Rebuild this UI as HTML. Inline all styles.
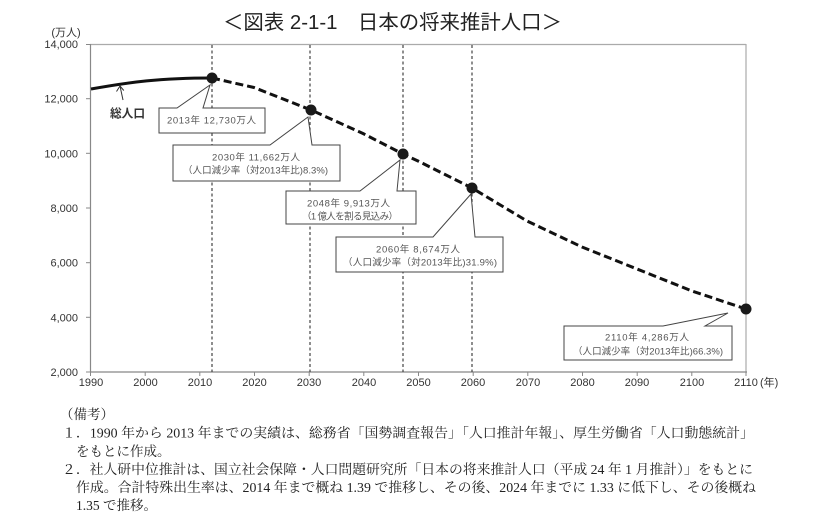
<!DOCTYPE html>
<html><head><meta charset="utf-8"><style>
html,body{margin:0;padding:0;background:#fff;}
svg{display:block;}
.s{font-family:"Liberation Sans","Noto Sans CJK JP",sans-serif;}
.m{font-family:"Liberation Serif","Noto Serif CJK SC",serif;}
</style></head><body>
<svg width="834" height="530" viewBox="0 0 834 530" xmlns="http://www.w3.org/2000/svg">
<rect width="834" height="530" fill="#fff"/>
<!-- title -->
<text class="s" x="223" y="29" font-size="20" fill="#222" textLength="339" lengthAdjust="spacingAndGlyphs">＜図表 2-1-1　日本の将来推計人口＞</text>
<!-- unit -->
<text class="s" x="66" y="36" font-size="11" fill="#333" text-anchor="middle">(万人)</text>
<!-- frame -->
<line x1="90" y1="44.5" x2="746" y2="44.5" stroke="#aaa" stroke-width="1.2"/>
<line x1="746" y1="44" x2="746" y2="372" stroke="#aaa" stroke-width="1.2"/>
<line x1="90.5" y1="44" x2="90.5" y2="372" stroke="#888" stroke-width="1.2"/>
<line x1="90" y1="372" x2="747" y2="372" stroke="#888" stroke-width="1.2"/>
<!-- y ticks & labels -->
<g stroke="#888" stroke-width="1">
<line x1="86" y1="44.5" x2="90" y2="44.5"/><line x1="86" y1="98.7" x2="90" y2="98.7"/><line x1="86" y1="153.3" x2="90" y2="153.3"/><line x1="86" y1="208" x2="90" y2="208"/><line x1="86" y1="262.7" x2="90" y2="262.7"/><line x1="86" y1="317.3" x2="90" y2="317.3"/><line x1="86" y1="372" x2="90" y2="372"/>
</g>
<g class="s" font-size="11" fill="#333" text-anchor="end">
<text x="78" y="48">14,000</text><text x="78" y="102.7">12,000</text><text x="78" y="157.3">10,000</text><text x="78" y="212">8,000</text><text x="78" y="266.7">6,000</text><text x="78" y="321.3">4,000</text><text x="78" y="376">2,000</text>
</g>
<!-- x ticks & labels -->
<g stroke="#888" stroke-width="1">
<line x1="90.5" y1="372" x2="90.5" y2="376"/><line x1="145.2" y1="372" x2="145.2" y2="376"/><line x1="199.8" y1="372" x2="199.8" y2="376"/><line x1="254.5" y1="372" x2="254.5" y2="376"/><line x1="309.2" y1="372" x2="309.2" y2="376"/><line x1="363.8" y1="372" x2="363.8" y2="376"/><line x1="418.5" y1="372" x2="418.5" y2="376"/><line x1="473.2" y1="372" x2="473.2" y2="376"/><line x1="527.8" y1="372" x2="527.8" y2="376"/><line x1="582.5" y1="372" x2="582.5" y2="376"/><line x1="637.2" y1="372" x2="637.2" y2="376"/><line x1="691.8" y1="372" x2="691.8" y2="376"/><line x1="746" y1="372" x2="746" y2="376"/>
</g>
<g class="s" font-size="11" fill="#333" text-anchor="middle">
<text x="91" y="386">1990</text><text x="145.5" y="386">2000</text><text x="200" y="386">2010</text><text x="254.5" y="386">2020</text><text x="309" y="386">2030</text><text x="364" y="386">2040</text><text x="418.5" y="386">2050</text><text x="473" y="386">2060</text><text x="528" y="386">2070</text><text x="582.5" y="386">2080</text><text x="637" y="386">2090</text><text x="692" y="386">2100</text><text x="746" y="386">2110</text>
</g>
<text class="s" x="760" y="386" font-size="11" fill="#333">(年)</text>
<!-- vertical dashed lines -->
<g stroke="#444" stroke-width="1.2" stroke-dasharray="3,2.5">
<line x1="212" y1="45" x2="212" y2="372"/>
<line x1="310" y1="45" x2="310" y2="372"/>
<line x1="403" y1="45" x2="403" y2="372"/>
<line x1="472" y1="45" x2="472" y2="372"/>
</g>
<!-- series -->
<path d="M91,89 C130,82 160,78 212,78" fill="none" stroke="#111" stroke-width="3"/>
<polyline points="212,78 254,87.5 311,110 363,133.5 403,154 418,161 472,188 527,221 582,247 637,269 692,291 746,309" fill="none" stroke="#111" stroke-width="3" stroke-dasharray="8,4" stroke-linejoin="round"/>
<!-- 総人口 label -->
<text class="s" x="110" y="117.5" font-size="12" font-weight="bold" fill="#333" textLength="35" lengthAdjust="spacingAndGlyphs">総人口</text>
<g stroke="#333" stroke-width="1" fill="none">
<line x1="123" y1="100" x2="120" y2="86"/>
<polyline points="116.5,91.5 120,86 123.8,90.5"/>
</g>
<!-- callouts -->
<g fill="#fff" stroke="#444" stroke-width="1">
<path d="M159,108 L177,108 L210,85 L203,108 L265,108 L265,133 L159,133 Z"/>
<path d="M173,145 L270,145 L308,117 L312,145 L340,145 L340,181 L173,181 Z"/>
<path d="M286,191 L360,191 L400,160 L397,191 L416,191 L416,224 L286,224 Z"/>
<path d="M336,237 L433,237 L471,194 L475,237 L503,237 L503,272 L336,272 Z"/>
<path d="M564,326 L663,326 L728,313 L705,326 L732,326 L732,360 L564,360 Z"/>
</g>
<g class="s" font-size="9.5" fill="#555" text-anchor="middle" lengthAdjust="spacingAndGlyphs">
<text x="211.5" y="123.5" textLength="89">2013年  12,730万人</text>
<text x="256" y="160.5" textLength="88">2030年  11,662万人</text>
<text x="255.5" y="173.5" textLength="145">（人口減少率（対2013年比)8.3%)</text>
<text x="348.5" y="206.5" textLength="83">2048年  9,913万人</text>
<text x="350" y="219.5" textLength="96">（1 億人を割る見込み）</text>
<text x="418" y="252.5" textLength="84">2060年  8,674万人</text>
<text x="420" y="265.5" textLength="154">（人口減少率（対2013年比)31.9%)</text>
<text x="647" y="340.5" textLength="84">2110年  4,286万人</text>
<text x="648" y="354.5" textLength="150">（人口減少率（対2013年比)66.3%)</text>
</g>
<!-- dots -->
<g fill="#1a1a1a">
<circle cx="212" cy="78" r="5.5"/>
<circle cx="311" cy="110" r="5.5"/>
<circle cx="403" cy="154" r="5.5"/>
<circle cx="472" cy="188" r="5.5"/>
<circle cx="746" cy="309" r="5.5"/>
</g>
<!-- notes -->
<g class="m" font-size="13.5" fill="#222">
<text x="60" y="419">（備考）</text>
<text x="62" y="437.5" textLength="692" lengthAdjust="spacingAndGlyphs">１．1990 年から 2013 年までの実績は、総務省「国勢調査報告」「人口推計年報」、厚生労働省「人口動態統計」</text>
<text x="76" y="456">をもとに作成。</text>
<text x="62" y="474" textLength="691" lengthAdjust="spacingAndGlyphs">２．社人研中位推計は、国立社会保障・人口問題研究所「日本の将来推計人口（平成 24 年 1 月推計）」をもとに</text>
<text x="76" y="492" textLength="680" lengthAdjust="spacingAndGlyphs">作成。合計特殊出生率は、2014 年まで概ね 1.39 で推移し、その後、2024 年までに 1.33 に低下し、その後概ね</text>
<text x="76" y="510">1.35 で推移。</text>
</g>
</svg>
</body></html>
